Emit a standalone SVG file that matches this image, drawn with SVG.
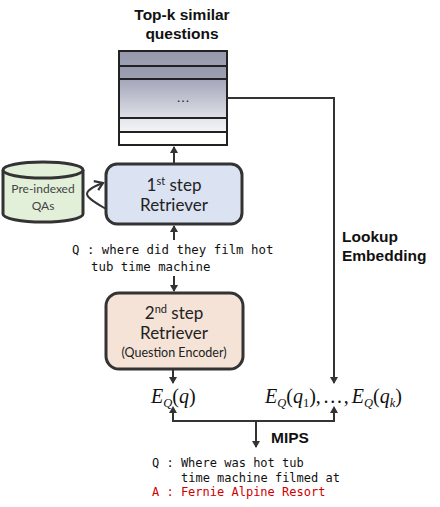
<svg xmlns="http://www.w3.org/2000/svg" width="440" height="507" viewBox="0 0 440 507">
<style>
.title{font-family:"Liberation Sans",Arial,sans-serif;font-weight:bold;font-size:15.5px;fill:#111}
.box{stroke:#333;stroke-width:3}
.boxtxt{font-family:Lato,"Open Sans",sans-serif;fill:#222;text-anchor:middle}
.mono{font-family:"DejaVu Sans Mono",monospace;font-size:12px;fill:#111}
.math{font-family:"Liberation Serif","DejaVu Serif",serif;font-size:20px;fill:#111}
.conn{fill:none;stroke:#333;stroke-width:2}
.row{stroke:#222;stroke-width:2}
</style>
<defs>
<marker id="ah" markerWidth="8" markerHeight="8" refX="6" refY="4" orient="auto" markerUnits="userSpaceOnUse">
<path d="M0,0 L7,4 L0,8 z" fill="#333"/>
</marker>
<marker id="open" markerWidth="12" markerHeight="12" refX="9" refY="6" orient="auto" markerUnits="userSpaceOnUse">
<path d="M1,1 L9,6 L2,11" fill="none" stroke="#333" stroke-width="2.2"/>
</marker>
<linearGradient id="g1" x1="0" y1="0" x2="0" y2="1">
<stop offset="0" stop-color="#9698ac"/><stop offset="1" stop-color="#9ea0b3"/>
</linearGradient>
<linearGradient id="g3" x1="0" y1="0" x2="0" y2="1">
<stop offset="0" stop-color="#a3a6b9"/><stop offset="1" stop-color="#dedfe7"/>
</linearGradient>
<linearGradient id="g4" x1="0" y1="0" x2="0" y2="1">
<stop offset="0" stop-color="#e4e5ec"/><stop offset="1" stop-color="#f4f4f7"/>
</linearGradient>
</defs>
<rect width="440" height="507" fill="#fff"/>

<g id="title">
<text class="title" x="182" y="20" text-anchor="middle">Top-k similar</text>
<text class="title" x="182" y="39" text-anchor="middle">questions</text>
</g>

<g id="stack">
<rect class="row" x="119" y="51" width="108" height="15" fill="url(#g1)"/>
<rect class="row" x="119" y="66" width="108" height="13" fill="url(#g1)"/>
<rect class="row" x="119" y="79" width="108" height="39" fill="url(#g3)"/>
<rect class="row" x="119" y="118" width="108" height="14" fill="url(#g4)"/>
<rect class="row" x="119" y="132" width="108" height="13" fill="#fff"/>
<text x="183" y="102" text-anchor="middle" font-family="Liberation Sans,sans-serif" font-size="14" fill="#222">…</text>
</g>

<g id="preindexed">
<path d="M3,170 L3,214 A40,8 0 0 0 83,214 L83,170" fill="#e2efd9" stroke="#333" stroke-width="3"/>
<ellipse cx="43" cy="170" rx="40" ry="8" fill="#e2efd9" stroke="#333" stroke-width="3"/>
<text class="boxtxt" x="43" y="193" font-size="12" style="fill:#444">Pre-indexed</text>
<text class="boxtxt" x="43" y="210" font-size="12" style="fill:#444">QAs</text>
</g>

<g id="step1">
<rect class="box" x="106" y="164" width="136" height="60" rx="11" fill="#dbe3f3"/>
<text class="boxtxt" x="174" y="191" font-size="17">1<tspan font-size="11" dy="-6">st</tspan><tspan dy="6"> step</tspan></text>
<text class="boxtxt" x="174" y="211" font-size="17">Retriever</text>
</g>

<g id="query1">
<text class="mono" x="72" y="254" style="font-size:12.4px">Q : where did they film hot</text>
<text class="mono" x="91" y="271" style="font-size:12.4px">tub time machine</text>
</g>

<g id="step2">
<rect class="box" x="106" y="293" width="137" height="76" rx="13" fill="#f4e3d6"/>
<text class="boxtxt" x="174" y="319" font-size="17">2<tspan font-size="11" dy="-6">nd</tspan><tspan dy="6"> step</tspan></text>
<text class="boxtxt" x="174" y="339" font-size="17">Retriever</text>
<text class="boxtxt" x="174" y="357" font-size="12.5">(Question Encoder)</text>
</g>

<g id="eq">
<text class="math" x="151" y="403"><tspan font-style="italic">E</tspan><tspan font-style="italic" font-size="12.5" dy="4">Q</tspan><tspan dy="-4">(</tspan><tspan font-style="italic">q</tspan>)</text>
</g>

<g id="eqk">
<text class="math" x="265" y="403"><tspan font-style="italic">E</tspan><tspan font-style="italic" font-size="12.5" dy="4">Q</tspan><tspan dy="-4">(</tspan><tspan font-style="italic">q</tspan><tspan font-size="12.5" dy="4">1</tspan><tspan dy="-4">),</tspan><tspan dx="2">…</tspan><tspan dx="1">,</tspan><tspan dx="3" font-style="italic">E</tspan><tspan font-style="italic" font-size="12.5" dy="4">Q</tspan><tspan dy="-4">(</tspan><tspan font-style="italic">q</tspan><tspan font-style="italic" font-size="12.5" dy="4">k</tspan><tspan dy="-4">)</tspan></text>
</g>

<g id="lookup">
<text class="title" x="342" y="242">Lookup</text>
<text class="title" x="342" y="261">Embedding</text>
</g>

<g id="mips">
<text class="title" x="271" y="443">MIPS</text>
</g>

<g id="answer">
<text class="mono" x="152" y="467">Q : Where was hot tub</text>
<text class="mono" x="181" y="482">time machine filmed at</text>
<text class="mono" x="152" y="496" style="fill:#d00000">A : Fernie Alpine Resort</text>
</g>

<g id="connectors">
<line class="conn" x1="174" y1="164" x2="174" y2="147" marker-end="url(#ah)"/>
<path class="conn" d="M106,209 C96,203 87,198 87,194 C87,190 95,186 103,183" marker-end="url(#open)"/>
<line class="conn" x1="174" y1="240" x2="174" y2="226" marker-end="url(#ah)"/>
<line class="conn" x1="174" y1="276" x2="174" y2="291" marker-end="url(#ah)"/>
<line class="conn" x1="173" y1="369" x2="173" y2="383" marker-end="url(#ah)"/>
<polyline class="conn" points="227,98 334,98 334,383" marker-end="url(#ah)"/>
<polyline class="conn" points="173,408 173,421 334,421 334,408"/>
<path d="M173,406 L169,413 L177,413 z M334,406 L330,413 L338,413 z" fill="#333"/>
<line class="conn" x1="256" y1="421" x2="256" y2="447" marker-end="url(#ah)"/>
</g>
</svg>
